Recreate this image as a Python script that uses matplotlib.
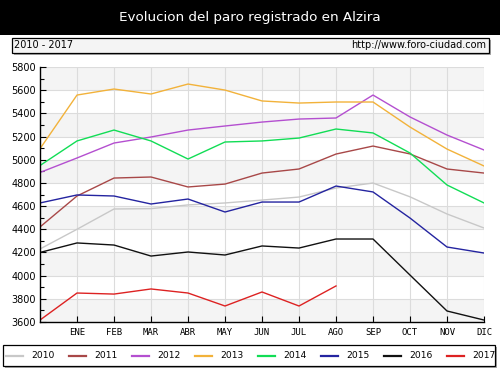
import matplotlib
matplotlib.use("Agg")
import matplotlib.pyplot as plt
from matplotlib.patches import Rectangle
from matplotlib.lines import Line2D

# ---- data ----
months = ["ENE", "FEB", "MAR", "ABR", "MAY", "JUN", "JUL", "AGO", "SEP", "OCT", "NOV", "DIC"]
years = ["2010", "2011", "2012", "2013", "2014", "2015", "2016", "2017"]
# first value = December of previous year, then ENE..DIC
s2010 = [4230, 4400, 4575, 4578, 4610, 4627, 4652, 4678, 4756, 4799, 4680, 4532, 4411]
s2011 = [4420, 4687, 4842, 4851, 4765, 4790, 4885, 4920, 5049, 5118, 5050, 4920, 4885]
s2012 = [4890, 5015, 5144, 5196, 5256, 5291, 5325, 5351, 5360, 5558, 5369, 5213, 5084]
s2013 = [5095, 5558, 5610, 5567, 5653, 5601, 5507, 5489, 5498, 5498, 5282, 5092, 4946]
s2014 = [4950, 5162, 5256, 5162, 5006, 5153, 5162, 5187, 5265, 5231, 5058, 4782, 4627]
s2015 = [4627, 4696, 4687, 4618, 4661, 4549, 4635, 4635, 4773, 4722, 4497, 4247, 4195]
s2016 = [4200, 4282, 4264, 4169, 4204, 4178, 4256, 4238, 4316, 4316, 4005, 3695, 3617]
s2017 = [3617, 3850, 3841, 3885, 3850, 3738, 3859, 3738, 3911]
series = [s2010, s2011, s2012, s2013, s2014, s2015, s2016, s2017]
colors = ["#c8c8c8", "#a84848", "#b44fd0", "#f2b23a", "#11dd55", "#2424a0", "#111111", "#dd2222"]

W, H = 500, 375
fig = plt.figure(figsize=(5, 3.75), dpi=100)
fig.patch.set_facecolor("white")

def fx(px):
    return px / W

def fy(py):
    return 1 - py / H

# header band
fig.patches.append(Rectangle((0, fy(35)), 1, 35 / H, transform=fig.transFigure,
                             facecolor="black", edgecolor="none", zorder=0))
fig.text(0.5, fy(18), "Evolucion del paro registrado en Alzira", color="white",
         ha="center", va="center", fontsize=9.7, family="DejaVu Sans")

# subtitle box with shadow
fig.patches.append(Rectangle((fx(14), fy(55)), 477 / W, 15 / H, transform=fig.transFigure,
                             facecolor="#a8a8a8", edgecolor="none", zorder=1))
fig.patches.append(Rectangle((fx(12), fy(53)), 477 / W, 15 / H, transform=fig.transFigure,
                             facecolor="#f4f4f4", edgecolor="black", lw=0.9, zorder=2))
fig.text(fx(14), fy(45.5), "2010 - 2017", ha="left", va="center", fontsize=7, zorder=3)
fig.text(fx(486), fy(45.5), "http://www.foro-ciudad.com", ha="right", va="center",
         fontsize=7, zorder=3)

# axes
ax = fig.add_axes([fx(40), fy(322), (484 - 40) / W, (322 - 67) / H])
ax.set_facecolor("white")
for lo in range(3600, 5800, 400):
    ax.axhspan(lo, lo + 200, color="#f4f4f4", lw=0, zorder=0)

x_full = list(range(13))
for s, c in zip(series, colors):
    ax.plot(x_full[:len(s)], s, color=c, lw=1.0, zorder=3)

ax.set_xlim(0, 12)
ax.set_ylim(3600, 5800)
ax.set_xticks(range(1, 13))
ax.set_xticklabels(months, fontsize=6.5, family="DejaVu Sans Mono")
ax.set_yticks(range(3600, 5801, 200))
ax.set_yticks(range(3700, 5800, 200), minor=True)
ax.tick_params(axis="y", labelsize=7, direction="in", length=4, width=0.8, pad=3)
ax.tick_params(axis="y", which="minor", direction="in", length=3, width=0.8)
ax.tick_params(axis="x", direction="in", length=4, width=0.8, pad=4)
ax.grid(True, color="#dcdcdc", lw=0.8, zorder=1)
ax.set_axisbelow(True)
for side in ["top", "right"]:
    ax.spines[side].set_visible(False)
for side in ["left", "bottom"]:
    ax.spines[side].set_linewidth(1.0)
    ax.spines[side].set_zorder(4)

# legend box with shadow
fig.patches.append(Rectangle((fx(5), fy(368)), 492 / W, 21 / H, transform=fig.transFigure,
                             facecolor="#a8a8a8", edgecolor="none", zorder=1))
fig.patches.append(Rectangle((fx(3), fy(366)), 492 / W, 21 / H, transform=fig.transFigure,
                             facecolor="white", edgecolor="black", lw=0.9, zorder=2))
for i, (yr, c) in enumerate(zip(years, colors)):
    x0 = 6 + 63 * i
    fig.lines.append(Line2D([fx(x0), fx(x0 + 17)], [fy(355.5), fy(355.5)],
                            transform=fig.transFigure, color=c, lw=1.6, zorder=3))
    fig.text(fx(x0 + 25), fy(355.5), yr, ha="left", va="center", fontsize=6.6, zorder=3)

fig.savefig("out.png", dpi=100)
